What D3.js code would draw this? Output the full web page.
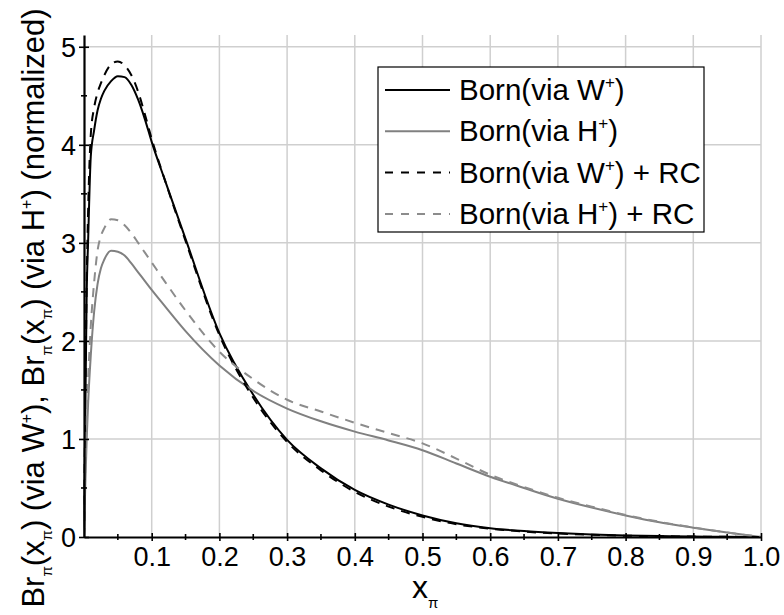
<!DOCTYPE html>
<html>
<head>
<meta charset="utf-8">
<script src="https://cdn.jsdelivr.net/npm/d3@7"></script>
<style>
  body { margin: 0; background: #fff; }
  text { font-family: "Liberation Sans", Arial, sans-serif; fill: #000; }
</style>
</head>
<body>
<svg id="chart" width="784" height="615"></svg>
<script>
// x grid shared by all four curves
const xValues = [0, 0.002, 0.004, 0.006, 0.01, 0.015, 0.02, 0.025, 0.03, 0.04, 0.05, 0.06, 0.07, 0.08, 0.09,
    0.1, 0.12, 0.15, 0.2, 0.25, 0.3, 0.35, 0.4, 0.45, 0.5, 0.55, 0.6, 0.65, 0.7, 0.75, 0.8, 0.85, 0.9, 0.95, 1.0];

const bornW = [0, 1.3, 2.5, 3.0, 3.88, 4.15, 4.35, 4.47, 4.55, 4.65, 4.70, 4.69, 4.61, 4.46, 4.26,
    4.03, 3.63, 3.04, 2.08, 1.45, 0.99, 0.70, 0.48, 0.33, 0.22, 0.14, 0.09, 0.06, 0.04, 0.025, 0.015, 0.009, 0.005, 0.002, 0];

const bornH = [0, 0.55, 1.0, 1.35, 1.85, 2.3, 2.58, 2.74, 2.83, 2.92, 2.91, 2.87, 2.79, 2.70, 2.61,
    2.52, 2.35, 2.10, 1.75, 1.49, 1.31, 1.18, 1.075, 0.985, 0.885, 0.75, 0.615, 0.50, 0.39, 0.30, 0.22, 0.15, 0.095, 0.045, 0];

const bornWrc = [0, 1.4, 2.6, 3.3, 4.1, 4.38, 4.53, 4.63, 4.71, 4.82, 4.85, 4.81, 4.71, 4.54, 4.31,
    4.06, 3.63, 3.02, 2.06, 1.42, 0.97, 0.68, 0.46, 0.31, 0.205, 0.13, 0.085, 0.055, 0.035, 0.022, 0.013, 0.008, 0.004, 0.002, 0];

const bornHrc = [0, 0.7, 1.25, 1.6, 2.15, 2.6, 2.92, 3.07, 3.15, 3.24, 3.23, 3.18, 3.10, 3.00, 2.90,
    2.80, 2.60, 2.31, 1.89, 1.61, 1.40, 1.28, 1.165, 1.06, 0.955, 0.80, 0.635, 0.51, 0.40, 0.31, 0.225, 0.155, 0.097, 0.046, 0];

const xTicks = [0.1, 0.2, 0.3, 0.4, 0.5, 0.6, 0.7, 0.8, 0.9, 1.0];
const xMinor = [0.05, 0.15, 0.25, 0.35, 0.45, 0.55, 0.65, 0.75, 0.85, 0.95];
const yTicks = [0, 1, 2, 3, 4, 5];
const yMinor = [0.5, 1.5, 2.5, 3.5, 4.5];

const seriesNames = ["Born(via W|)", "Born(via H|)", "Born(via W|) + RC", "Born(via H|) + RC"];
const seriesData = [bornW, bornH, bornWrc, bornHrc];
const seriesColor = ["#000", "#808080", "#000", "#8c8c8c"];
const seriesDash = [null, null, "9,7", "9,7"];

const margin = {top: 35, right: 23, bottom: 78, left: 84};
const svg = d3.select("#chart");
const width = 784 - margin.left - margin.right;
const height = 615 - margin.top - margin.bottom;

const x = d3.scaleLinear().domain([0, 1]).range([0, width]);
const y = d3.scaleLinear().domain([0, 5.12]).range([height, 0]);

const g = svg.append("g").attr("transform", `translate(${margin.left},${margin.top})`);

// grid
g.selectAll(".vgrid").data(xTicks).enter().append("line")
    .attr("x1", d => x(d)).attr("x2", d => x(d))
    .attr("y1", 0).attr("y2", height)
    .attr("stroke", "#cfcfcf").attr("stroke-width", 1.5);
g.selectAll(".hgrid").data(yTicks.filter(d => d > 0)).enter().append("line")
    .attr("x1", 0).attr("x2", width)
    .attr("y1", d => y(d)).attr("y2", d => y(d))
    .attr("stroke", "#cfcfcf").attr("stroke-width", 1.5);

// curves
const line = d3.line()
    .x((d, i) => x(xValues[i]))
    .y(d => y(d))
    .curve(d3.curveMonotoneX);

seriesData.forEach((s, i) => {
    g.append("path")
        .datum(s)
        .attr("fill", "none")
        .attr("stroke", seriesColor[i])
        .attr("stroke-width", 2)
        .attr("stroke-dasharray", seriesDash[i])
        .attr("d", line);
});

// x axis
let xAxis = g.append("g").attr("transform", `translate(0,${height})`)
    .call(d3.axisBottom(x).tickValues(xTicks).tickFormat(d3.format(".1f")).tickSize(4).tickSizeOuter(0));
xAxis.select(".domain").attr("stroke-width", 2.2);
xAxis.selectAll(".tick line").attr("y1", -4).attr("y2", 4).attr("stroke-width", 1.6);
xAxis.selectAll(".tick text").attr("y", 29).attr("dy", 0)
    .style("font-size", "27px").style("font-family", "'Liberation Sans', Arial, sans-serif");
xAxis.selectAll(".minor").data(xMinor).enter().append("line")
    .attr("x1", d => x(d)).attr("x2", d => x(d))
    .attr("y1", -3).attr("y2", 3)
    .attr("stroke", "#000").attr("stroke-width", 1.6);

// y axis
let yAxis = g.append("g")
    .call(d3.axisLeft(y).tickValues(yTicks).tickFormat(d3.format("d")).tickSize(4).tickSizeOuter(0));
yAxis.select(".domain").attr("stroke-width", 2.2);
yAxis.selectAll(".tick line").attr("x1", -5).attr("x2", 5).attr("stroke-width", 1.6);
yAxis.selectAll(".tick text").attr("x", -8).attr("dy", "0.36em")
    .style("font-size", "27px").style("font-family", "'Liberation Sans', Arial, sans-serif");
yAxis.selectAll(".minor").data(yMinor).enter().append("line")
    .attr("x1", -3).attr("x2", 3)
    .attr("y1", d => y(d)).attr("y2", d => y(d))
    .attr("stroke", "#000").attr("stroke-width", 1.6);

// writes "a|b" pieces: | marks a superscript "+"
function addLabel(text, label) {
    let parts = label.split("|");
    text.append("tspan").text(parts[0]);
    for (let k = 1; k < parts.length; k++) {
        text.append("tspan").attr("dy", -12).style("font-size", "17px").text("+");
        text.append("tspan").attr("dy", 12).text(parts[k]);
    }
}

// legend
let legend = svg.append("g").attr("transform", "translate(378,67)");
legend.append("rect").attr("width", 326).attr("height", 165)
    .attr("fill", "#fff").attr("stroke", "#000").attr("stroke-width", 1.2);
seriesNames.forEach((name, i) => {
    let ly = 23 + i * 41.3;
    legend.append("line")
        .attr("x1", 7).attr("x2", 72).attr("y1", ly).attr("y2", ly)
        .attr("stroke", seriesColor[i]).attr("stroke-width", 2)
        .attr("stroke-dasharray", seriesDash[i] ? "8,8" : null);
    let t = legend.append("text").attr("x", 81).attr("y", ly + 10).style("font-size", "29.5px");
    addLabel(t, name);
});

// x label
let xl = svg.append("text").attr("x", 412).attr("y", 598).style("font-size", "32px");
xl.append("tspan").text("x");
xl.append("tspan").attr("dy", 10).style("font-size", "15px").text("π");

// y label
let yl = svg.append("text")
    .attr("transform", "translate(44,308) rotate(-90)")
    .attr("text-anchor", "middle")
    .style("font-size", "31px");
let yParts = [["Br", 0], ["π", 1], ["(x", -1], ["π", 1], [") (via W", -1], ["+", 2], ["), Br", -2],
    ["π", 1], ["(x", -1], ["π", 1], [") (via H", -1], ["+", 2], [") (normalized)", -2]];
yParts.forEach(p => {
    let ts = yl.append("tspan").text(p[0]);
    if (p[1] === 1) ts.attr("dy", 8).style("font-size", "15px");
    else if (p[1] === -1) ts.attr("dy", -8);
    else if (p[1] === 2) ts.attr("dy", -12).style("font-size", "16px");
    else if (p[1] === -2) ts.attr("dy", 12);
});
</script>
</body>
</html>
